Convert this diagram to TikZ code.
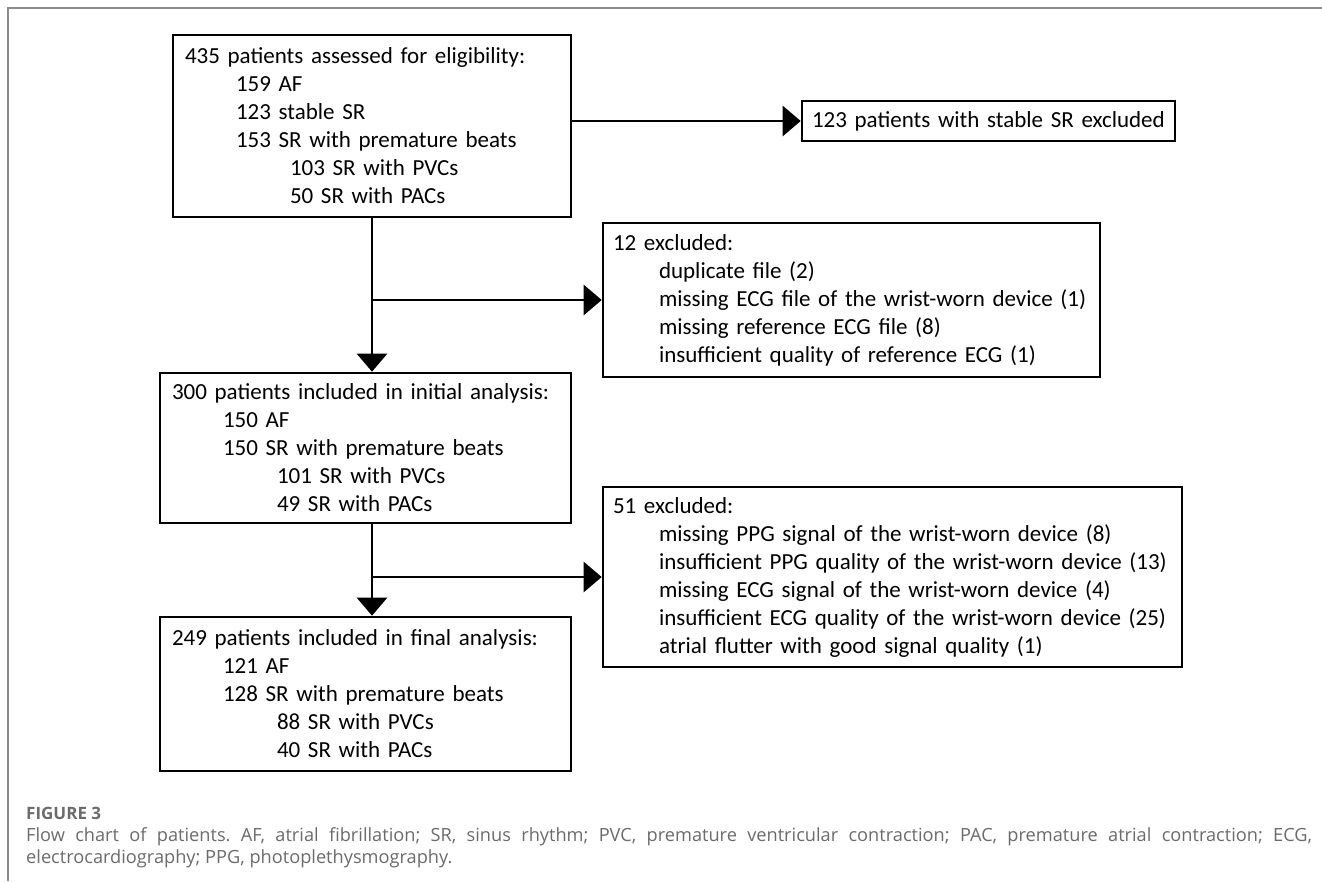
\documentclass[tikz,border=0pt]{standalone}
\usepackage{fontspec}
\usepackage{tikz}
\usetikzlibrary{arrows.meta}
\usetikzlibrary{positioning}
\setmainfont{Carlito}
\newfontfamily\capfont{Open Sans}
\hyphenpenalty=10000
\frenchspacing
\definecolor{framegray}{rgb}{0.55, 0.55, 0.55}
\definecolor{capgray}{rgb}{0.42, 0.42, 0.42}
\tikzset{flowbox/.style = {draw, line width=2.6pt, align=left, inner ysep=0pt,
                           font=\fontsize{23}{28}\selectfont},
         flowarrow/.style = {line width=2.6pt, -{Triangle[width=30pt, length=18pt]}}}
\newcommand{\indone}{\hspace*{51pt}}
\newcommand{\indtwo}{\hspace*{105pt}}
\newcommand{\indexcl}{\hspace*{46pt}}

\begin{document}
\begin{tikzpicture}[x=1pt, y=-1pt]
    \useasboundingbox (0, 0) rectangle (1322, 881);
    \draw [framegray, line width=1.5pt] (8, 881) -- (8, 8) -- (1322, 8);

    \node [flowbox, inner xsep=12pt, text width=374pt, minimum height=182pt] (assessed) at (372, 126)
      {435 patients assessed for eligibility:\\
       \indone 159 AF\\
       \indone 123 stable SR\\
       \indone 153 SR with premature beats\\
       \indtwo 103 SR with PVCs\\
       \indtwo 50 SR with PACs};
    \node [flowbox, inner xsep=10pt, text width=353pt, minimum height=40pt] (stable) at (988.5, 121)
      {123 patients with stable SR excluded};
    \node [flowbox, inner xsep=10pt, text width=477pt, minimum height=154pt] (firstout) at (851.5, 300)
      {12 excluded:\\
       \indexcl duplicate file (2)\\
       \indexcl missing ECG file of the wrist-worn device (1)\\
       \indexcl missing reference ECG file (8)\\
       \indexcl insufficient quality of reference ECG (1)};
    \node [flowbox, inner xsep=12pt, text width=387pt, minimum height=150pt] (initial) at (365.5, 448)
      {300 patients included in initial analysis:\\
       \indone 150 AF\\
       \indone 150 SR with premature beats\\
       \indtwo 101 SR with PVCs\\
       \indtwo 49 SR with PACs};
    \node [flowbox, inner xsep=10pt, text width=559pt, minimum height=180pt] (secondout) at (892.5, 577)
      {51 excluded:\\
       \indexcl missing PPG signal of the wrist-worn device (8)\\
       \indexcl insufficient PPG quality of the wrist-worn device (13)\\
       \indexcl missing ECG signal of the wrist-worn device (4)\\
       \indexcl insufficient ECG quality of the wrist-worn device (25)\\
       \indexcl atrial flutter with good signal quality (1)};
    \node [flowbox, inner xsep=12pt, text width=387pt, minimum height=154pt] (final) at (365.5, 694)
      {249 patients included in final analysis:\\
       \indone 121 AF\\
       \indone 128 SR with premature beats\\
       \indtwo 88 SR with PVCs\\
       \indtwo 40 SR with PACs};

    \draw [flowarrow] (assessed.east |- stable.west) -- (stable.west);
    \draw [flowarrow] (assessed.south) -- (assessed.south |- initial.north);
    \draw [flowarrow] (assessed.south |- firstout.west) -- (firstout.west);
    \draw [flowarrow] (assessed.south |- initial.south) -- (assessed.south |- final.north);
    \draw [flowarrow] (assessed.south |- secondout.west) -- (secondout.west);

    \node [anchor=base west, inner sep=0pt, text=capgray,
           font=\capfont\bfseries\fontsize{17}{20}\selectfont] (figlabel) at (26, 819) {FIGURE 3};
    \node [anchor=north west, inner sep=0pt, text width=1286pt, align=justify, text=capgray,
           font=\capfont\fontsize{18.2}{22}\selectfont] (caption) at (26, 827)
      {Flow chart of patients. AF, atrial fibrillation; SR, sinus rhythm; PVC, premature ventricular contraction; PAC, premature atrial contraction; ECG, electrocardiography; PPG, photoplethysmography.};
\end{tikzpicture}
\end{document}
